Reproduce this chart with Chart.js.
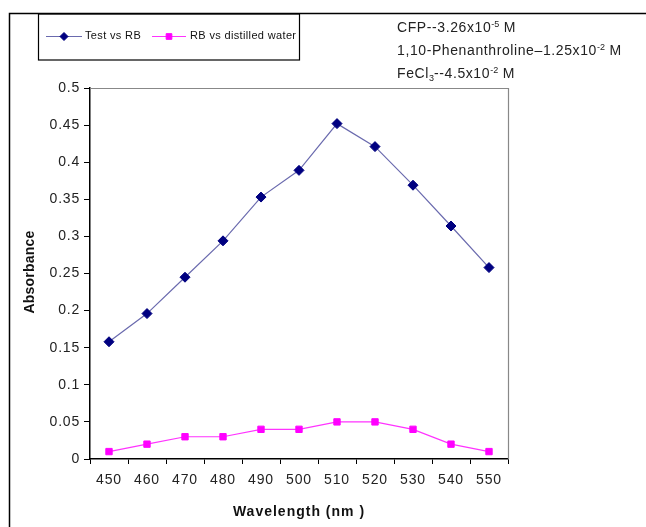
<!DOCTYPE html>
<html>
<head>
<meta charset="utf-8">
<script src="https://cdn.jsdelivr.net/npm/chart.js@4.4.0/dist/chart.umd.min.js"></script>
<style>
    body { margin: 0; background: #fff; }
    #wrap { position: relative; width: 646px; height: 527px; }
    #notes {
        position: absolute; left: 397px; top: 16px;
        font-family: "Liberation Sans", Arial, sans-serif;
        font-size: 14px; color: #222; line-height: 23px;
        letter-spacing: 0.6px;
    }
    #notes sup { font-size: 9px; vertical-align: 5px; line-height: 0; letter-spacing: 0; }
    #notes sub { font-size: 9px; vertical-align: -3px; line-height: 0; letter-spacing: 0; }
</style>
</head>
<body>
<div id="wrap">
    <canvas id="lineChart" width="646" height="527"></canvas>
    <div id="notes">
        <div>CFP--3.26x10<sup>-5</sup> M</div>
        <div>1,10-Phenanthroline–1.25x10<sup>-2</sup> M</div>
        <div>FeCl<sub>3</sub>--4.5x10<sup>-2</sup> M</div>
    </div>
</div>
<script>
// データ
const wavelengths = ["450", "460", "470", "480", "490", "500", "510", "520", "530", "540", "550"];
const testVsRB = [0.158, 0.196, 0.245, 0.294, 0.353, 0.389, 0.452, 0.421, 0.369, 0.314, 0.258];
const rbVsWater = [0.01, 0.02, 0.03, 0.03, 0.04, 0.04, 0.05, 0.05, 0.04, 0.02, 0.01];
const seriesLabels = ["Test vs RB", "RB vs distilled water"];

const FONT = "'Liberation Sans', Arial, sans-serif";

// 枠線・凡例・軸タイトルの描画
const decorPlugin = {
    id: "decor",
    beforeDraw(chart) {
        const ctx = chart.ctx;
        ctx.save();
        ctx.fillStyle = "#fff";
        ctx.fillRect(0, 0, chart.width, chart.height);
        ctx.strokeStyle = "#000";
        ctx.lineWidth = 1.5;
        ctx.beginPath();
        ctx.moveTo(9.5, 527);
        ctx.lineTo(9.5, 13.5);
        ctx.lineTo(646, 13.5);
        ctx.stroke();
        ctx.restore();
        // 目盛りラベルの字間
        ctx.letterSpacing = "0.8px";
    },
    afterDraw(chart) {
        const ctx = chart.ctx;
        const area = chart.chartArea;
        ctx.save();
        // plot area border (top/right)
        ctx.strokeStyle = "#888";
        ctx.lineWidth = 1.2;
        ctx.beginPath();
        ctx.moveTo(area.left, area.top + 0.5);
        ctx.lineTo(area.right + 0.5, area.top + 0.5);
        ctx.lineTo(area.right + 0.5, area.bottom);
        ctx.stroke();

        // legend box
        ctx.strokeStyle = "#000";
        ctx.lineWidth = 1.2;
        ctx.strokeRect(38.5, 14, 261, 46);
        const ly = 36;
        const items = [
            { x0: 46, x1: 82, tx: 85 },
            { x0: 152, x1: 186, tx: 190 },
        ];
        chart.data.datasets.forEach((ds, i) => {
            const it = items[i];
            ctx.strokeStyle = ds.borderColor;
            ctx.lineWidth = 1;
            ctx.beginPath();
            ctx.moveTo(it.x0, ly + 0.5);
            ctx.lineTo(it.x1, ly + 0.5);
            ctx.stroke();
            ctx.fillStyle = ds.pointBackgroundColor;
            ctx.strokeStyle = ds.pointBorderColor;
            Chart.helpers.drawPoint(ctx, {
                pointStyle: ds.pointStyle,
                radius: 4,
                rotation: 0,
                borderWidth: 1,
            }, (it.x0 + it.x1) / 2, ly + 0.5);
            ctx.fillStyle = "#111";
            ctx.font = "11px " + FONT;
            ctx.letterSpacing = "0.35px";
            ctx.textBaseline = "middle";
            ctx.textAlign = "left";
            ctx.fillText(ds.label, it.tx, ly);
        });

        // axis titles
        ctx.fillStyle = "#111";
        ctx.font = "bold 14px " + FONT;
        ctx.textAlign = "center";
        ctx.textBaseline = "middle";
        ctx.letterSpacing = "1px";
        ctx.fillText("Wavelength (nm )", 299, 512);
        ctx.letterSpacing = "0.2px";
        ctx.translate(30, 272);
        ctx.rotate(-Math.PI / 2);
        ctx.fillText("Absorbance", 0, 0);
        ctx.restore();
    },
};

new Chart(document.getElementById("lineChart").getContext("2d"), {
    type: "line",
    data: {
        labels: wavelengths,
        datasets: [
            {
                label: seriesLabels[0],
                data: testVsRB,
                borderColor: "#6a6aae",
                borderWidth: 1.2,
                pointStyle: "rectRot",
                pointRadius: 5,
                pointBackgroundColor: "#000080",
                pointBorderColor: "#000080",
                pointBorderWidth: 1,
                tension: 0,
                fill: false,
            },
            {
                label: seriesLabels[1],
                data: rbVsWater,
                borderColor: "#ff33ff",
                borderWidth: 1.2,
                pointStyle: "rect",
                pointRadius: 4.5,
                pointBackgroundColor: "#ff00ff",
                pointBorderColor: "#ff00ff",
                pointBorderWidth: 1,
                tension: 0,
                fill: false,
            },
        ],
    },
    options: {
        responsive: false,
        animation: false,
        layout: {
            padding: { left: 0, top: 88, right: 138, bottom: 0 },
        },
        plugins: {
            legend: { display: false },
            tooltip: { enabled: false },
        },
        scales: {
            x: {
                type: "category",
                offset: true,
                grid: {
                    offset: true,
                    drawOnChartArea: false,
                    color: "#000",
                    tickLength: 5,
                },
                border: { color: "#000", width: 1.5 },
                ticks: {
                    color: "#222",
                    font: { family: FONT, size: 14 },
                    padding: 8,
                    maxRotation: 0,
                },
                afterFit: (scale) => {
                    scale.height = 68;
                },
            },
            y: {
                min: 0,
                max: 0.5,
                ticks: {
                    stepSize: 0.05,
                    color: "#222",
                    font: { family: FONT, size: 14 },
                    padding: 4,
                    callback: (v) => parseFloat(v.toFixed(2)).toString(),
                },
                grid: {
                    drawOnChartArea: false,
                    color: "#000",
                    tickLength: 6,
                },
                border: { color: "#000", width: 1.5 },
                afterFit: (scale) => {
                    scale.width = 90;
                },
            },
        },
    },
    plugins: [decorPlugin],
});
</script>
</body>
</html>
